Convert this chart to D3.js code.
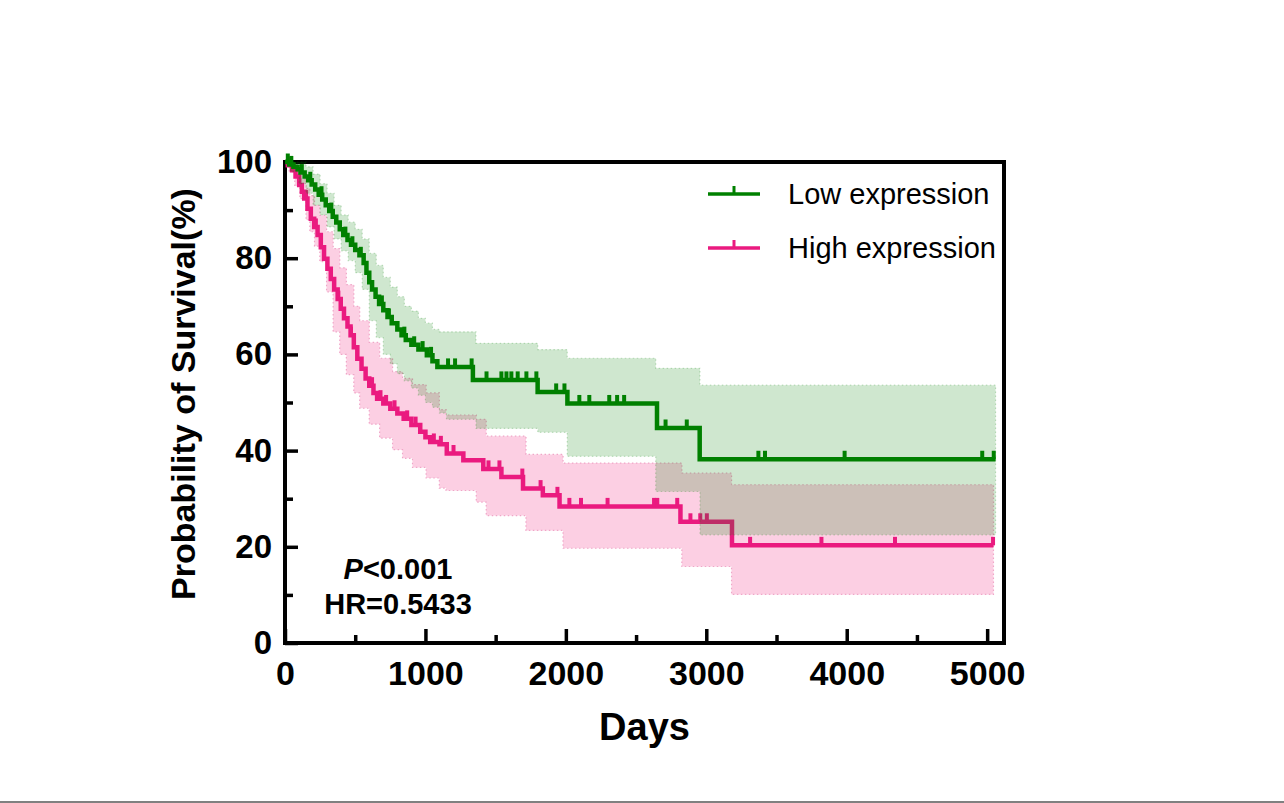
<!DOCTYPE html>
<html>
<head>
<meta charset="utf-8">
<script src="https://cdn.jsdelivr.net/npm/d3@7"></script>
<style>
  body { margin: 0; background: #fff; }
  svg { display: block; font-family: "Liberation Sans", Arial, sans-serif; }
</style>
</head>
<body>
<svg id="chart"></svg>
<script>
const W = 1284, H = 803;

// axis ticks
const xTicks = [0, 1000, 2000, 3000, 4000, 5000];
const xMinorTicks = [500, 1500, 2500, 3500, 4500];
const yTicks = [0, 20, 40, 60, 80, 100];
const yMinorTicks = [10, 30, 50, 70, 90];

// Kaplan-Meier steps [day, survival %]
const lowSteps = [
  [0, 100], [30, 99.5], [60, 99], [90, 98.5], [110, 97.8], [140, 97], [165, 96.2],
  [190, 95.3], [215, 94.3], [240, 93.2], [265, 92.2], [290, 91], [315, 89.8],
  [340, 88.6], [365, 87.4], [390, 86], [415, 84.8], [445, 83.8], [470, 82.8],
  [500, 81.7], [530, 80.6], [560, 79], [580, 77], [600, 75], [620, 73.5],
  [645, 72], [670, 70.5], [700, 69.2], [730, 67.8], [760, 66.5], [800, 65.2],
  [830, 64], [860, 63], [900, 62], [950, 61], [1010, 59.8], [1050, 58.6],
  [1085, 57.4], [1338, 54.7], [1799, 52.2], [2011, 49.8], [2649, 44.7], [2953, 38.2]
];
const lowEnd = 5060;
const highSteps = [
  [0, 100], [20, 99.3], [50, 98.3], [75, 97], [101, 95.2], [120, 93.8], [137, 92.4],
  [160, 90.3], [184, 88.2], [208, 86.5], [232, 84.8], [255, 82.3], [278, 79.9],
  [302, 77.8], [326, 75.7], [350, 73.5], [375, 71.5], [397, 69.5], [420, 67.5],
  [445, 65.8], [467, 64], [490, 61.5], [515, 59.1], [545, 57], [574, 55],
  [600, 53.5], [630, 52], [656, 50.8], [700, 49.8], [750, 48.7], [800, 47.7],
  [845, 46.6], [900, 45.3], [963, 43.9], [1000, 42.8], [1034, 41.8], [1100, 41.3],
  [1152, 39.4], [1270, 38], [1412, 36.2], [1541, 34.5], [1695, 32.1], [1836, 30.7],
  [1955, 28.4], [2816, 25.2], [3183, 20.3]
];
const highEnd = 5045;

// censored days
const lowCensor = [
  20, 45, 120, 180, 260, 330, 430, 480, 540, 690, 740, 850, 920, 980, 1040,
  1161, 1211, 1329, 1435, 1541, 1577, 1612, 1657, 1719, 1790, 1931, 1990,
  2096, 2167, 2309, 2365, 2415, 2710, 2861, 3371, 3418, 3985, 4965, 5047
];
const highCensor = [
  40, 150, 220, 380, 470, 620, 680, 720, 780, 870, 930, 1060, 1110, 1200,
  1449, 1527, 1690, 1820, 1940, 2025, 2108, 2297, 2628, 2651, 2793,
  2887, 2957, 3004, 3312, 3820, 4344, 5042
];

// 95% confidence bands [day, lower, upper]
const lowCI = [
  [0, 100, 100], [40, 98, 100], [100, 95.5, 100], [150, 93.5, 99], [200, 91, 97.5],
  [250, 89, 95.5], [300, 86.5, 93.5], [350, 84, 91], [400, 81.5, 89], [450, 79.5, 87.5],
  [500, 77, 86], [550, 73.5, 84], [600, 67, 81], [650, 63.5, 78.5], [700, 60, 76],
  [750, 58, 74], [800, 56, 72], [850, 54.5, 70], [900, 53, 69], [950, 51.5, 67.5],
  [1000, 50, 66.5], [1050, 49, 65.2], [1100, 47.8, 64.7], [1150, 46.5, 64.7],
  [1360, 44.6, 62.3], [1800, 43.8, 61], [2010, 38.8, 59.2], [2640, 31.5, 57.1],
  [2955, 22.5, 53.6]
];
const highCI = [
  [0, 100, 100], [30, 98, 99.5], [70, 95, 98], [106, 92.4, 96.5], [150, 88, 94.5],
  [177, 85.5, 93], [210, 82.5, 91], [248, 79.3, 88.9], [296, 73, 85.5], [343, 64.7, 82],
  [390, 60, 78], [437, 55.8, 74.5], [490, 52, 70], [532, 48.8, 67], [600, 45.5, 62.5],
  [674, 42.6, 59.2], [766, 40.2, 56.4], [837, 38.4, 55], [908, 36.5, 53.7],
  [1005, 34.3, 52], [1099, 32.2, 48.5], [1147, 31.7, 47.4], [1362, 29.3, 46.5],
  [1433, 26.5, 43], [1716, 23.4, 39.2], [1980, 19.7, 37.4], [2826, 15.9, 35.3],
  [3180, 10.1, 32.9]
];

const legendLabels = ["Low expression", "High expression"];
const green = "#008000", pink = "#ea1a7f";

const svg = d3.select("#chart").attr("width", W).attr("height", H);

const x = d3.scaleLinear().domain([0, 5120]).range([285, 1004]);
const y = d3.scaleLinear().domain([0, 100]).range([643, 162]);

const withEnd = (arr, end) => arr.concat([[end].concat(arr[arr.length - 1].slice(1))]);

const area = d3.area()
  .curve(d3.curveStepAfter)
  .x(d => x(d[0]))
  .y0(d => y(d[1]))
  .y1(d => y(d[2]));

const line = d3.line()
  .curve(d3.curveStepAfter)
  .x(d => x(d[0]))
  .y(d => y(d[1]));

const bis = d3.bisector(d => d[0]).right;
function survAt(steps, day) {
  return steps[Math.max(0, bis(steps, day) - 1)][1];
}

// frame
svg.append("rect")
  .attr("x", x(0)).attr("y", y(100))
  .attr("width", x(5120) - x(0)).attr("height", y(0) - y(100))
  .attr("fill", "none").attr("stroke", "#000").attr("stroke-width", 4);

// axes
function styleAxis(g, size) {
  g.select(".domain").remove();
  g.selectAll(".tick line").attr("stroke", "#000").attr("stroke-width", 3.5);
  g.selectAll(".tick text").attr("fill", "#000").attr("font-weight", "bold").attr("font-size", size);
}

svg.append("g").attr("transform", `translate(0,${y(0)})`)
  .call(d3.axisBottom(x).tickValues(xTicks).tickSize(-14).tickPadding(18).tickFormat(d3.format("d")))
  .call(g => styleAxis(g, 34));
svg.append("g").attr("transform", `translate(0,${y(0)})`)
  .call(d3.axisBottom(x).tickValues(xMinorTicks).tickSize(-8).tickFormat(""))
  .call(g => styleAxis(g, 34));
svg.append("g").attr("transform", `translate(${x(0)},0)`)
  .call(d3.axisLeft(y).tickValues(yTicks).tickSize(-13).tickPadding(13))
  .call(g => styleAxis(g, 33));
svg.append("g").attr("transform", `translate(${x(0)},0)`)
  .call(d3.axisLeft(y).tickValues(yMinorTicks).tickSize(-8).tickFormat(""))
  .call(g => styleAxis(g, 33));

// high expression band + curve
svg.append("path")
  .attr("d", area(withEnd(highCI, highEnd)))
  .attr("fill", "#fccfe3")
  .attr("stroke", "#f0a6c8").attr("stroke-width", 1.2).attr("stroke-dasharray", "1.5 2.5");

function drawCurve(steps, end, censor, color) {
  svg.append("path")
    .attr("d", line(withEnd(steps, end)))
    .attr("fill", "none").attr("stroke", color).attr("stroke-width", 4.5);
  svg.append("g").selectAll("line")
    .data(censor)
    .join("line")
    .attr("x1", d => x(d)).attr("x2", d => x(d))
    .attr("y1", d => y(survAt(steps, d)))
    .attr("y2", d => y(survAt(steps, d)) - 8.5)
    .attr("stroke", color).attr("stroke-width", 4);
}

drawCurve(highSteps, highEnd, highCensor, pink);

// low expression band (translucent, over the pink) + curve
svg.append("path")
  .attr("d", area(withEnd(lowCI, lowEnd)))
  .attr("fill", green).attr("fill-opacity", 0.19)
  .attr("stroke", green).attr("stroke-opacity", 0.22).attr("stroke-width", 1.2)
  .attr("stroke-dasharray", "1.5 2.5");

drawCurve(lowSteps, lowEnd, lowCensor, green);

// legend
const legend = svg.append("g");
legendLabels.forEach((label, i) => {
  const ly = 194 + i * 54;
  const c = i === 0 ? green : pink;
  legend.append("line").attr("x1", 708).attr("x2", 760).attr("y1", ly).attr("y2", ly)
    .attr("stroke", c).attr("stroke-width", 3.5);
  legend.append("line").attr("x1", 734).attr("x2", 734).attr("y1", ly).attr("y2", ly - 8)
    .attr("stroke", c).attr("stroke-width", 3);
  legend.append("text").attr("x", 788).attr("y", ly + 10)
    .attr("font-size", 29).attr("fill", "#000").text(label);
});

// statistics
const stats = svg.append("g").attr("font-weight", "bold").attr("font-size", 29).attr("text-anchor", "middle");
const pText = stats.append("text").attr("x", 398).attr("y", 579);
pText.append("tspan").attr("font-style", "italic").text("P");
pText.append("tspan").text("<0.001");
stats.append("text").attr("x", 398).attr("y", 614).text("HR=0.5433");

// axis titles
svg.append("text")
  .attr("x", (x(0) + x(5120)) / 2).attr("y", 740)
  .attr("text-anchor", "middle").attr("font-weight", "bold").attr("font-size", 38)
  .text("Days");
svg.append("text")
  .attr("transform", `translate(195,394) rotate(-90)`)
  .attr("text-anchor", "middle").attr("font-weight", "bold").attr("font-size", 34)
  .text("Probability of Survival(%)");

// bottom rule
svg.append("rect").attr("x", 0).attr("y", 801).attr("width", W).attr("height", 2).attr("fill", "#808080");
</script>
</body>
</html>
